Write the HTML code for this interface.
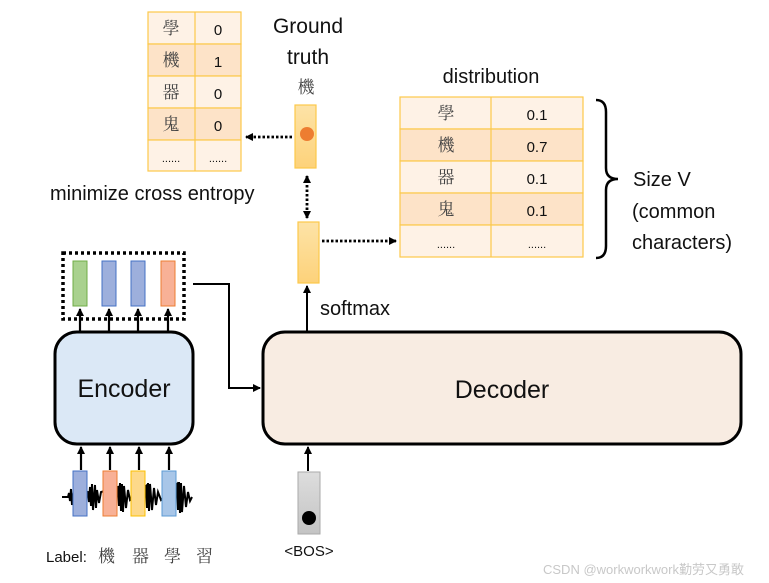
<!DOCTYPE html>
<html><head><meta charset="utf-8"><style>
html,body{margin:0;padding:0;background:#fff;}
svg{display:block;}
text{font-family:"Liberation Sans","Noto Sans CJK TC",sans-serif;fill:#111;}
.cj{font-family:"Noto Serif CJK SC","Noto Sans CJK TC",serif;fill:#444;}
</style></head><body>
<svg width="769" height="583" viewBox="0 0 769 583" xmlns="http://www.w3.org/2000/svg">
<defs>
<marker id="ah" markerWidth="8" markerHeight="8" refX="7" refY="4" orient="auto" markerUnits="userSpaceOnUse"><path d="M0,0 L8,4 L0,8 z" fill="#000"/></marker>
<marker id="ahs" markerWidth="8" markerHeight="8" refX="7" refY="4" orient="auto-start-reverse" markerUnits="userSpaceOnUse"><path d="M0,0 L8,4 L0,8 z" fill="#000"/></marker>
<linearGradient id="yb" x1="0" y1="0" x2="0" y2="1"><stop offset="0" stop-color="#fde3a7"/><stop offset="1" stop-color="#fdd27a"/></linearGradient>
<linearGradient id="gb" x1="0" y1="0" x2="0" y2="1"><stop offset="0" stop-color="#ddd"/><stop offset="1" stop-color="#c4c4c4"/></linearGradient>
</defs>

<g stroke="#fcc94a" stroke-width="1.2">
<rect x="148" y="12" width="93" height="32" fill="#fef2e6"/>
<rect x="148" y="44" width="93" height="32" fill="#fde3c8"/>
<rect x="148" y="76" width="93" height="32" fill="#fef2e6"/>
<rect x="148" y="108" width="93" height="32" fill="#fde3c8"/>
<rect x="148" y="140" width="93" height="31" fill="#fef2e6"/>
<line x1="195" y1="12" x2="195" y2="171"/>
</g>
<g font-size="17" text-anchor="middle">
<text class="cj" x="171" y="34">學</text><text x="218" y="35" font-size="15">0</text>
<text class="cj" x="171" y="66">機</text><text x="218" y="67" font-size="15">1</text>
<text class="cj" x="171" y="98">器</text><text x="218" y="99" font-size="15">0</text>
<text class="cj" x="171" y="130">鬼</text><text x="218" y="131" font-size="15">0</text>
<text x="171" y="162" font-size="11">......</text><text x="218" y="162" font-size="11">......</text>
</g>

<text x="308" y="33" font-size="21" text-anchor="middle">Ground</text>
<text x="308" y="64" font-size="21" text-anchor="middle">truth</text>
<text class="cj" x="306" y="93" font-size="17" text-anchor="middle">機</text>

<rect x="295" y="105" width="21" height="63" fill="url(#yb)" stroke="#fcc94a" stroke-width="1.2"/>
<circle cx="307" cy="134" r="7" fill="#ed7d31"/>
<line x1="292" y1="137" x2="246" y2="137" stroke="#000" stroke-width="2.8" stroke-dasharray="2.5,2" marker-end="url(#ah)"/>

<text x="50" y="200" font-size="20">minimize cross entropy</text>
<line x1="307" y1="176" x2="307" y2="218" stroke="#000" stroke-width="2.8" stroke-dasharray="2.5,2" marker-start="url(#ahs)" marker-end="url(#ah)"/>

<rect x="298" y="222" width="21" height="61" fill="url(#yb)" stroke="#fcc94a" stroke-width="1.2"/>
<line x1="322" y1="241" x2="396" y2="241" stroke="#000" stroke-width="2.8" stroke-dasharray="2.5,2" marker-end="url(#ah)"/>

<text x="491" y="83" font-size="20" text-anchor="middle">distribution</text>
<g stroke="#fcc94a" stroke-width="1.2">
<rect x="400" y="97" width="183" height="32" fill="#fef2e6"/>
<rect x="400" y="129" width="183" height="32" fill="#fde3c8"/>
<rect x="400" y="161" width="183" height="32" fill="#fef2e6"/>
<rect x="400" y="193" width="183" height="32" fill="#fde3c8"/>
<rect x="400" y="225" width="183" height="32" fill="#fef2e6"/>
<line x1="491" y1="97" x2="491" y2="257"/>
</g>
<g font-size="17" text-anchor="middle">
<text class="cj" x="446" y="119">學</text><text x="537" y="120" font-size="15">0.1</text>
<text class="cj" x="446" y="151">機</text><text x="537" y="152" font-size="15">0.7</text>
<text class="cj" x="446" y="183">器</text><text x="537" y="184" font-size="15">0.1</text>
<text class="cj" x="446" y="215">鬼</text><text x="537" y="216" font-size="15">0.1</text>
<text x="446" y="248" font-size="11">......</text><text x="537" y="248" font-size="11">......</text>
</g>
<path d="M596,100 Q606,100 606,112 L606,168 Q606,179 618,179 Q606,179 606,190 L606,246 Q606,258 596,258" fill="none" stroke="#000" stroke-width="2.5"/>
<text x="633" y="186" font-size="20">Size V</text>
<text x="632" y="218" font-size="20">(common</text>
<text x="632" y="249" font-size="20">characters)</text>

<rect x="63" y="253" width="121" height="66" fill="none" stroke="#000" stroke-width="3.5" stroke-dasharray="3,3"/>
<rect x="73" y="261" width="14" height="45" fill="#a9d18e" stroke="#70ad47"/>
<rect x="102" y="261" width="14" height="45" fill="#9dafdc" stroke="#4472c4"/>
<rect x="131" y="261" width="14" height="45" fill="#9dafdc" stroke="#4472c4"/>
<rect x="161" y="261" width="14" height="45" fill="#f8b196" stroke="#ed7d31"/>
<g stroke="#000" stroke-width="2.2">
<line x1="80" y1="331" x2="80" y2="309" marker-end="url(#ah)"/>
<line x1="109" y1="331" x2="109" y2="309" marker-end="url(#ah)"/>
<line x1="138" y1="331" x2="138" y2="309" marker-end="url(#ah)"/>
<line x1="168" y1="331" x2="168" y2="309" marker-end="url(#ah)"/>
</g>
<polyline points="193,284 229,284 229,388 260,388" fill="none" stroke="#000" stroke-width="2" marker-end="url(#ah)"/>

<rect x="55" y="332" width="138" height="112" rx="22" fill="#dbe8f6" stroke="#000" stroke-width="3"/>
<text x="124" y="397" font-size="25" text-anchor="middle">Encoder</text>

<rect x="263" y="332" width="478" height="112" rx="22" fill="#f8ece2" stroke="#000" stroke-width="3"/>
<text x="502" y="398" font-size="25" text-anchor="middle">Decoder</text>
<line x1="307" y1="331" x2="307" y2="286" stroke="#000" stroke-width="2" marker-end="url(#ah)"/>
<text x="320" y="315" font-size="20">softmax</text>

<path d="M62,497 L68,497 L69,493 L70,501 L71,489 L72,505 L74,488 L88,492 L89,502 L90,487 L91,506 L92,484 L93,510 L95,485 L96,508 L97,490 L99,503 L101,492 L118,487 L119,506 L120,483 L121,511 L122,484 L123,512 L124,486 L126,508 L128,490 L130,500 L146,486 L147,508 L148,483 L149,511 L150,484 L152,510 L154,488 L156,505 L158,492 L161,500 L177,484 L178,510 L179,482 L180,513 L181,483 L182,512 L184,486 L186,507 L188,492 L190,501 L192,497" fill="none" stroke="#000" stroke-width="2"/>
<rect x="73" y="471" width="14" height="45" fill="#9dafdc" stroke="#4472c4"/>
<rect x="103" y="471" width="14" height="45" fill="#f8b196" stroke="#ed7d31"/>
<rect x="131" y="471" width="14" height="45" fill="#fdd98a" stroke="#fcc000"/>
<rect x="162" y="471" width="14" height="45" fill="#a8c6e8" stroke="#5b9bd5"/>
<g stroke="#000" stroke-width="2.2">
<line x1="81" y1="470" x2="81" y2="447" marker-end="url(#ah)"/>
<line x1="110" y1="470" x2="110" y2="447" marker-end="url(#ah)"/>
<line x1="139" y1="470" x2="139" y2="447" marker-end="url(#ah)"/>
<line x1="169" y1="470" x2="169" y2="447" marker-end="url(#ah)"/>
</g>
<text x="46" y="562" font-size="15">Label:</text>
<text class="cj" x="98" y="562" font-size="17">機</text>
<text class="cj" x="132" y="562" font-size="17">器</text>
<text class="cj" x="164" y="562" font-size="17">學</text>
<text class="cj" x="196" y="562" font-size="17">習</text>

<rect x="298" y="472" width="22" height="62" fill="url(#gb)" stroke="#aaa"/>
<circle cx="309" cy="518" r="7" fill="#000"/>
<line x1="308" y1="471" x2="308" y2="447" stroke="#000" stroke-width="2" marker-end="url(#ah)"/>
<text x="309" y="556" font-size="15" text-anchor="middle">&lt;BOS&gt;</text>

<text x="543" y="574" font-size="13" style="fill:#c8c8c8">CSDN @workworkwork勤劳又勇敢</text>
</svg>
</body></html>
